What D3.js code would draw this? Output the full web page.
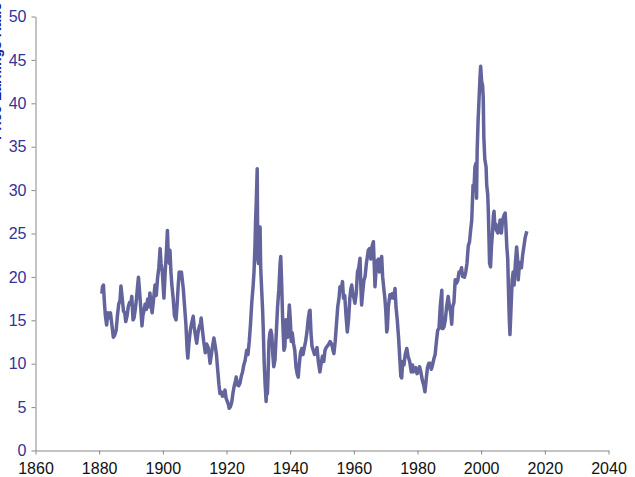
<!DOCTYPE html>
<html><head><meta charset="utf-8">
<script src="https://cdn.jsdelivr.net/npm/d3@7"></script>
<style>body{margin:0;background:#fff;}svg{display:block;}</style>
</head><body>
<svg id="chart" width="635" height="477"></svg>
<script>
const xTicks = [1860,1880,1900,1920,1940,1960,1980,2000,2020,2040];
const yTicks = [0,5,10,15,20,25,30,35,40,45,50];
const years = [
1881.0,1881.2,1881.5,1881.8,1882.1,1882.5,1882.9,1883.3,1883.7,1884.1,1884.6,1885.0,1885.5,1885.9,1886.3,1886.7,1887.0,1887.4,1887.8,1888.2,1888.5,1888.9,1889.3,1889.7,1890.1,1890.4,1890.8,1891.1,1891.5,1891.9,1892.2,1892.5,1892.8,1893.2,1893.6,1893.9,1894.2,1894.6,1895.0,1895.4,1895.8,1896.1,1896.5,1896.8,1897.2,1897.7,1898.1,1898.5,1898.9,1899.3,1899.6,1900.0,1900.5,1900.9,1901.3,1901.6,1901.9,1902.2,1902.4,1902.7,1903.0,1903.4,1903.8,1904.3,1904.6,1905.0,1905.3,1905.6,1906.0,1906.3,1906.6,1907.0,1907.4,1907.8,1908.0,1908.4,1908.8,1909.2,1909.7,1910.0,1910.4,1910.8,1911.2,1911.6,1912.0,1912.2,1912.6,1913.0,1913.5,1913.9,1914.4,1914.7,1915.0,1915.4,1915.8,1916.2,1916.6,1917.0,1917.4,1917.8,1918.1,1918.5,1918.9,1919.3,1919.7,1920.0,1920.4,1920.8,1921.0,1921.4,1921.8,1922.2,1922.6,1923.0,1923.2,1923.6,1924.0,1924.4,1924.8,1925.2,1925.6,1926.0,1926.5,1926.9,1927.3,1927.7,1928.1,1928.5,1928.8,1929.1,1929.3,1929.5,1929.7,1929.8,1929.9,1930.0,1930.2,1930.4,1930.7,1930.9,1931.2,1931.5,1931.7,1932.0,1932.3,1932.6,1932.8,1933.0,1933.2,1933.5,1933.8,1934.1,1934.4,1934.7,1935.0,1935.4,1935.8,1936.2,1936.6,1937.0,1937.2,1937.5,1937.8,1938.2,1938.5,1938.8,1939.1,1939.4,1939.7,1939.9,1940.2,1940.5,1940.8,1941.2,1941.6,1942.0,1942.4,1942.7,1943.0,1943.4,1943.8,1944.2,1944.6,1945.0,1945.4,1945.8,1946.2,1946.4,1946.7,1947.0,1947.4,1947.8,1948.2,1948.6,1949.0,1949.5,1949.9,1950.3,1950.7,1951.1,1951.5,1951.9,1952.3,1952.7,1953.2,1953.6,1953.9,1954.3,1954.7,1955.1,1955.5,1955.8,1956.2,1956.6,1956.9,1957.3,1957.7,1958.1,1958.5,1958.9,1959.2,1959.5,1959.8,1960.2,1960.5,1960.9,1961.3,1961.7,1962.1,1962.4,1962.6,1962.9,1963.3,1963.7,1964.1,1964.5,1964.7,1965.1,1965.5,1965.9,1966.3,1966.6,1966.8,1967.1,1967.5,1967.9,1968.2,1968.5,1968.9,1969.2,1969.6,1969.9,1970.2,1970.5,1970.7,1971.0,1971.5,1971.8,1972.2,1972.6,1973.1,1973.4,1973.8,1974.2,1974.6,1974.9,1975.2,1975.5,1975.9,1976.3,1976.8,1977.2,1977.7,1978.2,1978.6,1978.8,1979.2,1979.6,1980.0,1980.4,1980.8,1981.2,1981.7,1982.1,1982.5,1982.9,1983.3,1983.7,1984.1,1984.5,1984.9,1985.3,1985.7,1986.1,1986.5,1986.9,1987.3,1987.8,1987.9,1988.2,1988.5,1988.9,1989.3,1989.8,1990.2,1990.6,1990.9,1991.2,1991.6,1992.0,1992.4,1992.8,1993.2,1993.6,1994.0,1994.3,1994.6,1994.9,1995.3,1995.7,1996.1,1996.5,1996.9,1997.2,1997.6,1997.9,1998.2,1998.5,1998.7,1998.9,1999.2,1999.5,1999.8,2000.0,2000.3,2000.6,2000.8,2001.0,2001.3,2001.7,2001.9,2002.2,2002.4,2002.7,2002.8,2003.1,2003.4,2003.7,2004.0,2004.2,2004.5,2004.8,2005.0,2005.4,2005.8,2006.1,2006.5,2006.9,2007.3,2007.7,2007.9,2008.2,2008.5,2008.8,2009.0,2009.2,2009.5,2009.9,2010.2,2010.5,2010.9,2011.3,2011.6,2011.8,2012.1,2012.4,2012.8,2013.2,2013.6,2014.0,2014.5];
const peValues = [
18.0,18.8,19.0,17.0,15.5,14.4,15.8,15.2,15.8,14.6,13.0,13.2,13.8,15.5,16.8,17.2,18.9,17.5,16.0,15.8,14.8,15.4,16.5,17.0,16.8,17.7,15.0,15.2,16.2,17.5,18.8,19.9,18.5,16.5,14.3,15.5,16.0,16.8,16.2,17.4,16.5,18.1,16.5,15.8,17.2,19.0,17.8,19.8,21.0,23.2,21.5,20.5,17.5,20.5,23.0,25.3,22.0,21.5,23.0,20.5,19.0,17.5,15.5,15.0,16.5,19.0,20.5,20.0,20.5,19.5,18.5,16.5,14.5,11.5,10.6,12.5,13.8,14.6,15.4,14.2,13.2,12.3,13.5,14.2,14.6,15.2,13.8,12.5,11.2,12.2,11.8,11.0,10.0,11.0,12.0,12.9,12.0,11.0,9.2,7.5,6.5,6.7,6.2,6.4,6.9,6.0,5.6,5.2,4.8,5.0,5.5,6.6,7.4,8.0,8.4,7.5,7.4,7.7,8.5,9.0,9.8,10.3,11.5,11.0,12.5,14.5,17.0,18.8,20.5,23.5,26.5,28.5,31.0,32.4,27.0,22.0,21.5,24.5,25.7,21.0,18.5,16.1,14.0,10.0,7.5,5.6,7.0,6.5,8.4,12.5,13.5,13.8,13.2,11.0,9.6,10.4,13.5,16.5,18.5,21.5,22.3,19.0,15.0,11.5,11.9,15.0,14.5,13.0,15.5,16.7,15.0,12.5,13.5,12.3,11.5,9.5,8.7,8.4,9.8,11.2,11.7,11.0,11.8,12.5,13.5,15.0,16.0,16.1,13.5,12.0,11.5,11.0,11.2,11.8,10.2,9.0,10.0,10.8,10.2,11.5,11.8,12.0,12.2,12.5,12.2,11.5,11.1,12.5,14.5,16.5,17.5,18.8,18.5,19.4,17.5,17.8,15.5,13.6,15.0,17.5,18.5,19.0,18.0,17.5,16.9,18.0,20.5,21.0,22.1,18.5,16.7,18.0,19.5,20.0,21.5,22.5,23.0,23.2,22.0,23.5,24.0,21.0,18.8,20.5,21.8,22.0,20.5,21.5,22.3,20.0,18.5,17.5,16.0,13.6,14.0,16.5,17.9,17.5,18.0,17.5,18.6,16.5,15.0,13.0,10.5,8.5,8.3,10.2,9.8,11.0,11.7,10.8,10.2,9.0,9.8,9.0,9.3,9.5,8.8,9.0,9.6,9.0,8.0,7.5,6.7,8.2,9.5,10.0,10.0,9.3,9.8,10.5,11.0,12.5,13.8,14.0,16.5,18.4,14.0,14.0,14.2,15.0,16.5,17.7,16.5,15.8,14.5,16.5,17.0,19.6,19.2,19.5,20.5,20.5,21.0,20.0,20.0,19.9,20.5,21.5,23.5,24.0,25.5,26.5,30.5,30.0,32.6,33.0,29.0,34.5,38.0,40.5,43.0,44.2,42.5,42.0,40.7,36.0,33.5,32.6,30.5,29.5,27.6,23.0,21.5,21.1,23.5,25.0,27.0,27.5,25.5,26.0,25.3,25.0,25.5,26.5,25.0,26.5,27.0,27.3,26.0,23.5,22.0,17.5,15.0,13.3,16.0,19.6,20.5,19.0,21.5,23.4,22.0,19.6,21.0,21.6,21.0,22.5,23.5,24.5,25.2];
const yTitle = "Price-Earnings Ratio";

const svg = d3.select("#chart");
const x = d3.scaleLinear().domain([1860, 2040]).range([35, 608]);
const y = d3.scaleLinear().domain([0, 50]).range([450, 16]);

const xAxis = svg.append("g").attr("transform", "translate(0.5,450.5)")
  .call(d3.axisBottom(x).tickValues(xTicks).tickFormat(d3.format("d")).tickSize(4).tickSizeOuter(0));
xAxis.selectAll("text").attr("fill", "#111").attr("dy", "1.0em")
  .style("font-family", "'Liberation Sans', Arial, sans-serif").style("font-size", "16px");

const yAxis = svg.append("g").attr("transform", "translate(35.5,0.5)")
  .call(d3.axisLeft(y).tickValues(yTicks).tickSize(4).tickSizeOuter(0));
yAxis.selectAll("text").attr("fill", "#333399").attr("x", -9)
  .style("font-family", "'Liberation Sans', Arial, sans-serif").style("font-size", "16px");

svg.selectAll(".domain, .tick line").attr("stroke", "#888");

const data = years.map((d, i) => [d, peValues[i]]);
svg.append("path").datum(data)
  .attr("fill", "none").attr("stroke", "#64649c").attr("stroke-width", 3.5)
  .attr("stroke-linejoin", "round")
  .attr("d", d3.line().x(d => x(d[0])).y(d => y(d[1])));

svg.append("text").attr("transform", "translate(1,140) rotate(-90)")
  .attr("text-anchor", "start").attr("fill", "#1a1a8c")
  .style("font-family", "'Liberation Sans', Arial, sans-serif").style("font-size", "14px").style("font-weight", "bold")
  .text(yTitle);
</script>
</body></html>
